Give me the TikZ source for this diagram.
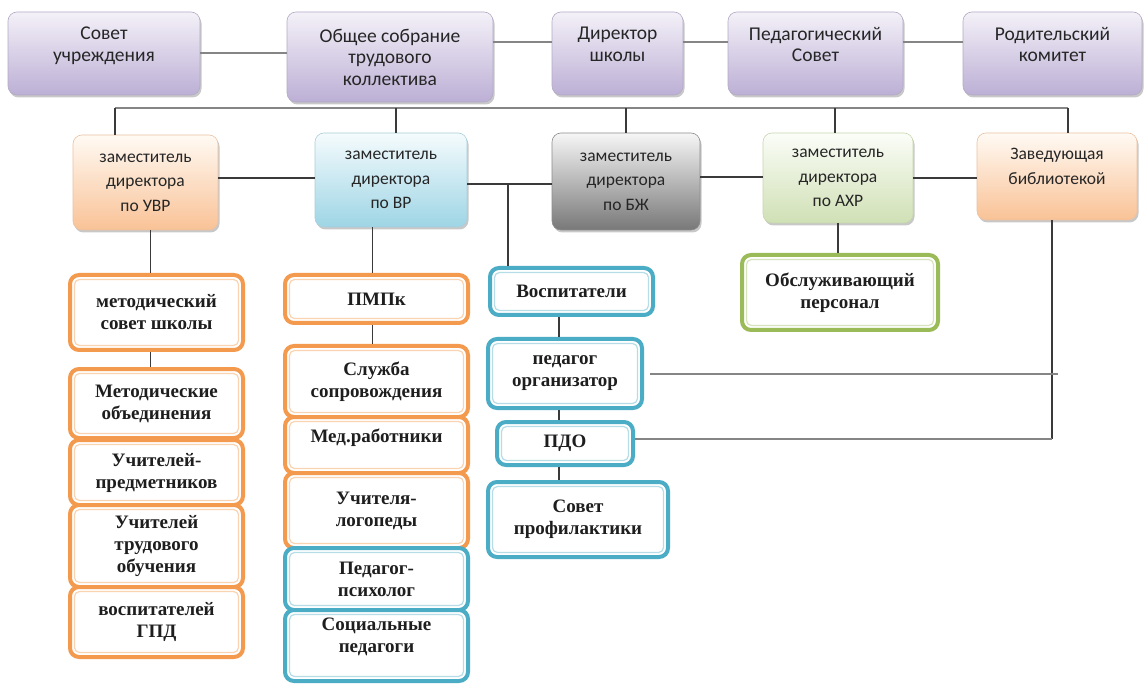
\documentclass[tikz,border=0pt]{standalone}
\usepackage{fontspec}
\setmainfont{Liberation Serif}
\newfontfamily\sansf{Carlito}
\usetikzlibrary{shadows}
\definecolor{purT}{HTML}{F4F1F8}
\definecolor{purB}{HTML}{BCAFD5}
\definecolor{purD}{HTML}{B3AAC6}
\definecolor{orT}{HTML}{FFFAF4}
\definecolor{orB}{HTML}{F9C296}
\definecolor{orD}{HTML}{EBC2A2}
\definecolor{blT}{HTML}{F5FBFD}
\definecolor{blB}{HTML}{9ED5E5}
\definecolor{blD}{HTML}{A9CFDA}
\definecolor{grT}{HTML}{F6F6F6}
\definecolor{grB}{HTML}{787878}
\definecolor{grD}{HTML}{8C8C8C}
\definecolor{gnT}{HTML}{FBFDF8}
\definecolor{gnB}{HTML}{D0E0B5}
\definecolor{gnD}{HTML}{C7D7AE}
\definecolor{oBrd}{HTML}{F39A4E}
\definecolor{oIn}{HTML}{FAD3B0}
\definecolor{bBrd}{HTML}{4BACC6}
\definecolor{bIn}{HTML}{B5DCE7}
\definecolor{gBrd}{HTML}{9BBB59}
\definecolor{gIn}{HTML}{D6E3BC}
\definecolor{lineD}{HTML}{3A3A3A}
\definecolor{lineG}{HTML}{858585}
\definecolor{txtS}{HTML}{262626}
\definecolor{txtD}{HTML}{1E1E1E}
\begin{document}
\begin{tikzpicture}[x=1pt,y=-1pt,
  conn/.style={draw=lineD, line width=1.3pt},
  conng/.style={draw=lineG, line width=2pt},
  shbox/.style={rounded corners=9pt, align=center, inner sep=2pt, line width=0.6pt,
    font=\sansf\fontsize{17.5}{24.5}\selectfont, text=txtS,
    drop shadow={shadow xshift=1.5pt, shadow yshift=-2.5pt, opacity=0.3, fill=black!70}},
  topbox/.style={shbox, top color=purT, bottom color=purB, draw=purD,
    font=\sansf\fontsize{19.5}{21.5}\selectfont},
  orbox/.style={shbox, top color=orT, bottom color=orB, draw=orD},
  blbox/.style={shbox, top color=blT, bottom color=blB, draw=blD},
  grbox/.style={shbox, top color=grT, bottom color=grB, draw=grD},
  gnbox/.style={shbox, top color=gnT, bottom color=gnB, draw=gnD},
  frm/.style n args={2}{rounded corners=9pt, draw=#1, line width=4pt, fill=white,
    align=center, inner sep=2pt, text=txtD,
    font=\bfseries\fontsize{19}{22}\selectfont,
    path picture={\draw[#2, line width=1.2pt, rounded corners=5pt]
      ([shift={(4.5pt,-4.5pt)}]path picture bounding box.north west) rectangle
      ([shift={(-4.5pt,4.5pt)}]path picture bounding box.south east);}},
  obx/.style={frm={oBrd}{oIn}},
  bbx/.style={frm={bBrd}{bIn}},
  gbx/.style={frm={gBrd}{gIn}}
]
\fill[white] (0,0) rectangle (1148,684);
\path[use as bounding box] (0,0) rectangle (1148,684);

% top row
\node[topbox, minimum width=192pt, minimum height=83pt] (sovet) at (104,53.5) {Совет\\учреждения\\[-3pt]\mbox{}};
\node[topbox, minimum width=206pt, minimum height=90pt] (obshee) at (390,57) {Общее собрание\\трудового\\коллектива};
\node[topbox, minimum width=131pt, minimum height=83pt] (dir) at (617.5,53.5) {Директор\\школы\\[-3pt]\mbox{}};
\node[topbox, minimum width=175pt, minimum height=83pt] (ped) at (815.5,53.5) {Педагогический\\Совет\\[-3pt]\mbox{}};
\node[topbox, minimum width=179pt, minimum height=83pt] (rod) at (1052.5,53.5) {Родительский\\комитет\\[-3pt]\mbox{}};

% second row
\node[orbox, minimum width=145pt, minimum height=95pt] (uvr) at (145.5,182.5) {заместитель\\директора\\по УВР};
\node[blbox, minimum width=152pt, minimum height=94pt] (vr) at (391,180) {заместитель\\директора\\по ВР};
\node[grbox, minimum width=148pt, minimum height=97pt] (bzh) at (626,181.5) {заместитель\\директора\\по БЖ};
\node[gnbox, minimum width=150pt, minimum height=90pt] (ahr) at (838,178) {заместитель\\директора\\по АХР};
\node[orbox, minimum width=160pt, minimum height=87pt] (bib) at (1057,176.5) {Заведующая\\библиотекой\\[-4pt]\mbox{}};

% left column
\node[obx, minimum width=173pt, minimum height=75pt] (met) at (156.5,312.5) {методический\\совет школы};
\node[obx, minimum width=173pt, minimum height=69pt] (metob) at (156.5,403.5) {Методические\\объединения};
\node[obx, minimum width=173pt, minimum height=65pt] (uchp) at (156.5,472.5) {Учителей-\\предметников};
\node[obx, minimum width=173pt, minimum height=82pt] (uchtr) at (156.5,546) {Учителей\\трудового\\обучения};
\node[obx, minimum width=173pt, minimum height=70pt] (gpd) at (156.5,622) {воспитателей\\ГПД};

% VR column
\node[obx, minimum width=183pt, minimum height=48pt] (pmpk) at (376.5,299) {ПМПк};
\node[obx, minimum width=183pt, minimum height=71pt] (sluz) at (376.5,381.5) {Служба\\сопровождения};
\node[obx, minimum width=183pt, minimum height=56pt] (med) at (376.5,445) {Мед.работники\\[-3pt]\mbox{}};
\node[obx, minimum width=183pt, minimum height=75pt] (logo) at (376.5,510.5) {Учителя-\\логопеды};
\node[bbx, minimum width=183pt, minimum height=62pt] (psih) at (376.5,579) {Педагог-\\психолог};
\node[bbx, minimum width=183pt, minimum height=71pt] (soc) at (376.5,645.5) {Социальные\\педагоги\\[-1pt]\mbox{}};

% BZh column
\node[bbx, minimum width=163pt, minimum height=47pt] (voc) at (571.5,291.5) {Воспитатели};
\node[bbx, minimum width=154pt, minimum height=69pt] (porg) at (565,373.5) {педагог\\организатор};
\node[bbx, minimum width=136pt, minimum height=43pt] (pdo) at (565,443.5) {ПДО};
\node[bbx, minimum width=180pt, minimum height=75pt] (sprof) at (578,519.5) {Совет\\профилактики};

% AXR
\node[gbx, minimum width=196pt, minimum height=75pt] (obsl) at (840,292.5) {Обслуживающий\\персонал};

% connectors, top row
\draw[conng] (sovet.east) -- (sovet.east -| obshee.west);
\draw[conng] ([yshift=15pt]obshee.east) -- ([yshift=15pt]obshee.east -| dir.west);
\draw[conng] ([yshift=11.5pt]dir.east) -- ([yshift=11.5pt]dir.east -| ped.west);
\draw[conng] ([yshift=11.5pt]ped.east) -- ([yshift=11.5pt]ped.east -| rod.west);

% bus
\coordinate (busL) at (115,108);
\coordinate (busR) at (1068,108);
\draw[conng] (busL) -- (busR);
\draw[conn] (busL) -- (busL |- uvr.north);
\draw[conn] ([xshift=5pt]vr.north) -- ([xshift=5pt]vr.north |- busL);
\draw[conn] (bzh.north) -- (bzh.north |- busL);
\draw[conn] ([xshift=-3pt]ahr.north) -- ([xshift=-3pt]ahr.north |- busL);
\draw[conn] (busR) -- (busR |- bib.north);

% second row links
\draw[conn] ([yshift=4.5pt]uvr.east) -- ([yshift=4.5pt]uvr.east -| vr.west);
\draw[conn] ([yshift=-4pt]vr.east) -- ([yshift=-4pt]vr.east -| bzh.west);
\coordinate (j1) at (508,184);
\draw[conn] (j1) -- (j1 |- voc.north);
\draw[conn] ([yshift=4.5pt]bzh.east) -- ([yshift=4.5pt]bzh.east -| ahr.west);
\draw[conn] (ahr.east) -- (ahr.east -| bib.west);

% lower links
\draw[conn] ([xshift=5pt]uvr.south) -- ([xshift=5pt]uvr.south |- met.north);
\draw[conn] ([xshift=-6pt]met.south) -- ([xshift=-6pt]met.south |- metob.north);
\draw[conn] ([xshift=-4pt]pmpk.north) -- ([xshift=-4pt]pmpk.north |- vr.south);
\draw[conn] ([xshift=-4pt]pmpk.south) -- ([xshift=-4pt]pmpk.south |- sluz.north);
\draw[conn] ([xshift=-6pt]porg.north) -- ([xshift=-6pt]porg.north |- voc.south);
\draw[conn] ([xshift=-6pt]porg.south) -- ([xshift=-6pt]porg.south |- pdo.north);
\draw[conn] ([xshift=-6pt]pdo.south) -- ([xshift=-6pt]pdo.south |- sprof.north);
\draw[conn] (ahr.south) -- (ahr.south |- obsl.north);

\coordinate (bibd) at ([xshift=-5pt]bib.south);
\coordinate (pdoe) at ([yshift=4.5pt]pdo.east);
\draw[conn] (bibd) -- (bibd |- pdoe);
\draw[conng] ([xshift=6pt]porg.east) -- ([xshift=6pt]porg.east -| bibd);
\draw[conng] (pdoe) -- (pdoe -| bibd);
\end{tikzpicture}
\end{document}
